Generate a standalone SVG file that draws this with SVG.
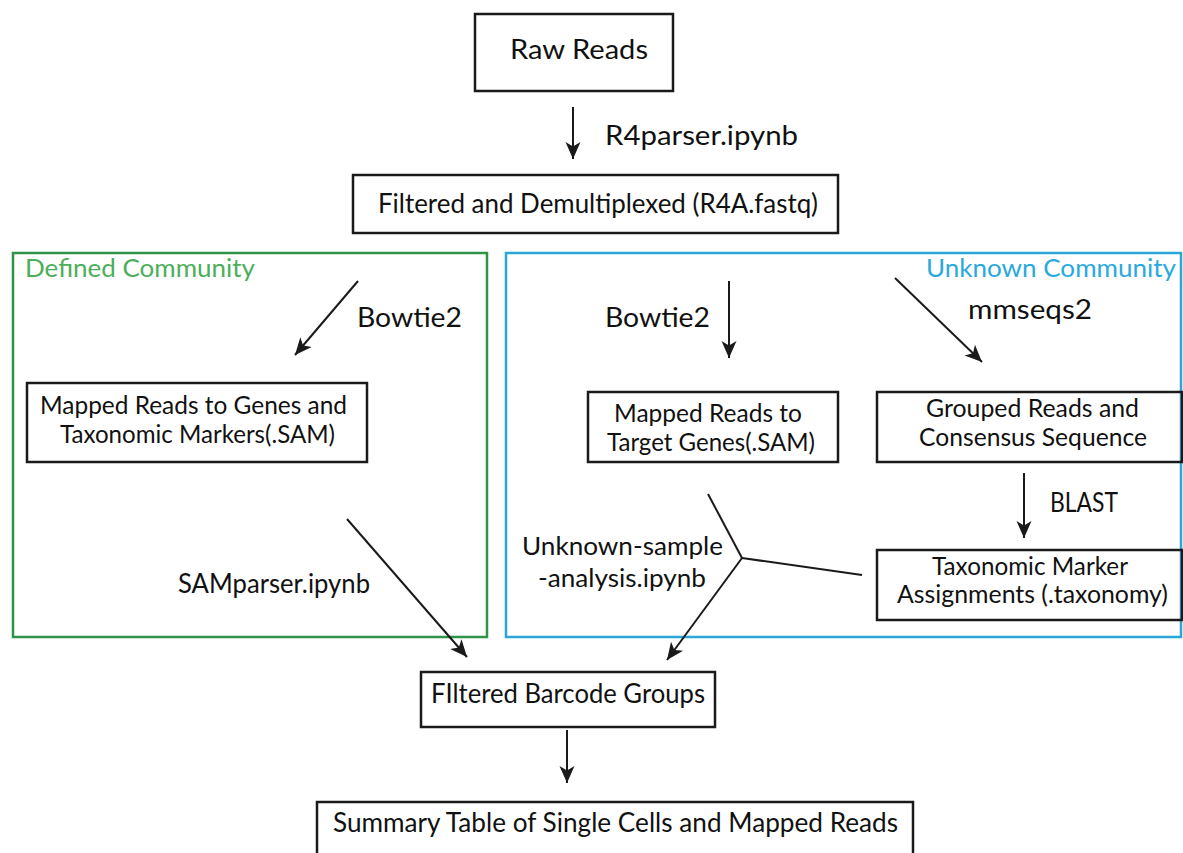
<svg xmlns="http://www.w3.org/2000/svg" width="1183" height="853" viewBox="0 0 1183 853">
<style>
text{font-family:Lato,"Open Sans","Liberation Sans",sans-serif;font-size:27px;fill:#111}
text.two{font-size:25px}
.box{fill:none;stroke:#1a1a1a;stroke-width:2.5}
.conn{fill:none;stroke:#1a1a1a;stroke-width:2}
.green{fill:none;stroke:#2e9448;stroke-width:2.5}
.blue{fill:none;stroke:#2aa7d6;stroke-width:2.5}
</style>
<defs>
<marker id="ah" markerUnits="userSpaceOnUse" markerWidth="22" markerHeight="18" viewBox="-1 -9 20 18" refX="17" refY="0" orient="auto">
<path d="M0,-7.5 L17,0 L0,7.5 L4.5,0 z" fill="#1a1a1a"/>
</marker>
</defs>
<rect width="1183" height="853" fill="#fff"/>
<g id="group-defined">
<rect class="green" x="13" y="253" width="474" height="384"/>
<text x="25" y="277" textLength="230" lengthAdjust="spacingAndGlyphs" style="fill:#4cae5a;font-size:25px">Defined Community</text>
</g>
<g id="group-unknown">
<rect class="blue" x="506" y="253" width="675" height="384"/>
<text x="926" y="277" textLength="250" lengthAdjust="spacingAndGlyphs" style="fill:#29a9df;font-size:25px">Unknown Community</text>
</g>
<g id="raw-reads">
<rect class="box" x="475" y="14" width="198" height="77"/>
<text x="510" y="59" textLength="138" lengthAdjust="spacingAndGlyphs">Raw Reads</text>
</g>
<g id="filtered">
<rect class="box" x="353" y="175" width="485" height="58"/>
<text x="378" y="213" textLength="440" lengthAdjust="spacingAndGlyphs">Filtered and Demultiplexed (R4A.fastq)</text>
</g>
<g id="mapped-genes-markers">
<rect class="box" x="27" y="383" width="340" height="79"/>
<text class="two" x="40" y="414" textLength="307" lengthAdjust="spacingAndGlyphs">Mapped Reads to Genes and</text>
<text class="two" x="60" y="443" textLength="275" lengthAdjust="spacingAndGlyphs">Taxonomic Markers(.SAM)</text>
</g>
<g id="mapped-target">
<rect class="box" x="588" y="392" width="250" height="70"/>
<text class="two" x="614" y="422" textLength="188" lengthAdjust="spacingAndGlyphs">Mapped Reads to</text>
<text class="two" x="607" y="451" textLength="208" lengthAdjust="spacingAndGlyphs">Target Genes(.SAM)</text>
</g>
<g id="grouped">
<rect class="box" x="877" y="392" width="305" height="70"/>
<text class="two" x="926" y="417" textLength="213" lengthAdjust="spacingAndGlyphs">Grouped Reads and</text>
<text class="two" x="919" y="446" textLength="228" lengthAdjust="spacingAndGlyphs">Consensus Sequence</text>
</g>
<g id="taxonomic">
<rect class="box" x="877" y="550" width="305" height="70"/>
<text class="two" x="932" y="575" textLength="196" lengthAdjust="spacingAndGlyphs">Taxonomic Marker</text>
<text class="two" x="897" y="603" textLength="271" lengthAdjust="spacingAndGlyphs">Assignments (.taxonomy)</text>
</g>
<g id="barcode-groups">
<rect class="box" x="421" y="672" width="294" height="55"/>
<text x="431" y="703" textLength="274" lengthAdjust="spacingAndGlyphs">FIltered Barcode Groups</text>
</g>
<g id="summary">
<rect class="box" x="317" y="802" width="596" height="80"/>
<text x="333" y="832" textLength="565" lengthAdjust="spacingAndGlyphs">Summary Table of Single Cells and Mapped Reads</text>
</g>
<g id="connectors">
<line class="conn" x1="573" y1="107" x2="573" y2="159" marker-end="url(#ah)"/>
<line class="conn" x1="358" y1="281" x2="295" y2="355" marker-end="url(#ah)"/>
<line class="conn" x1="729" y1="281" x2="729" y2="358" marker-end="url(#ah)"/>
<line class="conn" x1="895" y1="278" x2="982" y2="362" marker-end="url(#ah)"/>
<line class="conn" x1="1024" y1="473" x2="1024" y2="538" marker-end="url(#ah)"/>
<line class="conn" x1="347" y1="519" x2="467" y2="657" marker-end="url(#ah)"/>
<line class="conn" x1="708" y1="494" x2="742" y2="558"/>
<line class="conn" x1="862" y1="575" x2="742" y2="558"/>
<line class="conn" x1="742" y1="558" x2="667" y2="660" marker-end="url(#ah)"/>
<line class="conn" x1="567" y1="730" x2="567" y2="783" marker-end="url(#ah)"/>
<text x="605" y="145" textLength="193" lengthAdjust="spacingAndGlyphs">R4parser.ipynb</text>
<text x="357" y="327" textLength="105" lengthAdjust="spacingAndGlyphs">Bowtie2</text>
<text x="605" y="327" textLength="105" lengthAdjust="spacingAndGlyphs">Bowtie2</text>
<text x="968" y="319" textLength="124" lengthAdjust="spacingAndGlyphs">mmseqs2</text>
<text x="1050" y="512" textLength="68" lengthAdjust="spacingAndGlyphs">BLAST</text>
<text x="178" y="593" textLength="192" lengthAdjust="spacingAndGlyphs">SAMparser.ipynb</text>
<text class="two" x="522" y="555" textLength="201" lengthAdjust="spacingAndGlyphs">Unknown-sample</text>
<text class="two" x="538" y="587" textLength="168" lengthAdjust="spacingAndGlyphs">-analysis.ipynb</text>
</g>
</svg>
